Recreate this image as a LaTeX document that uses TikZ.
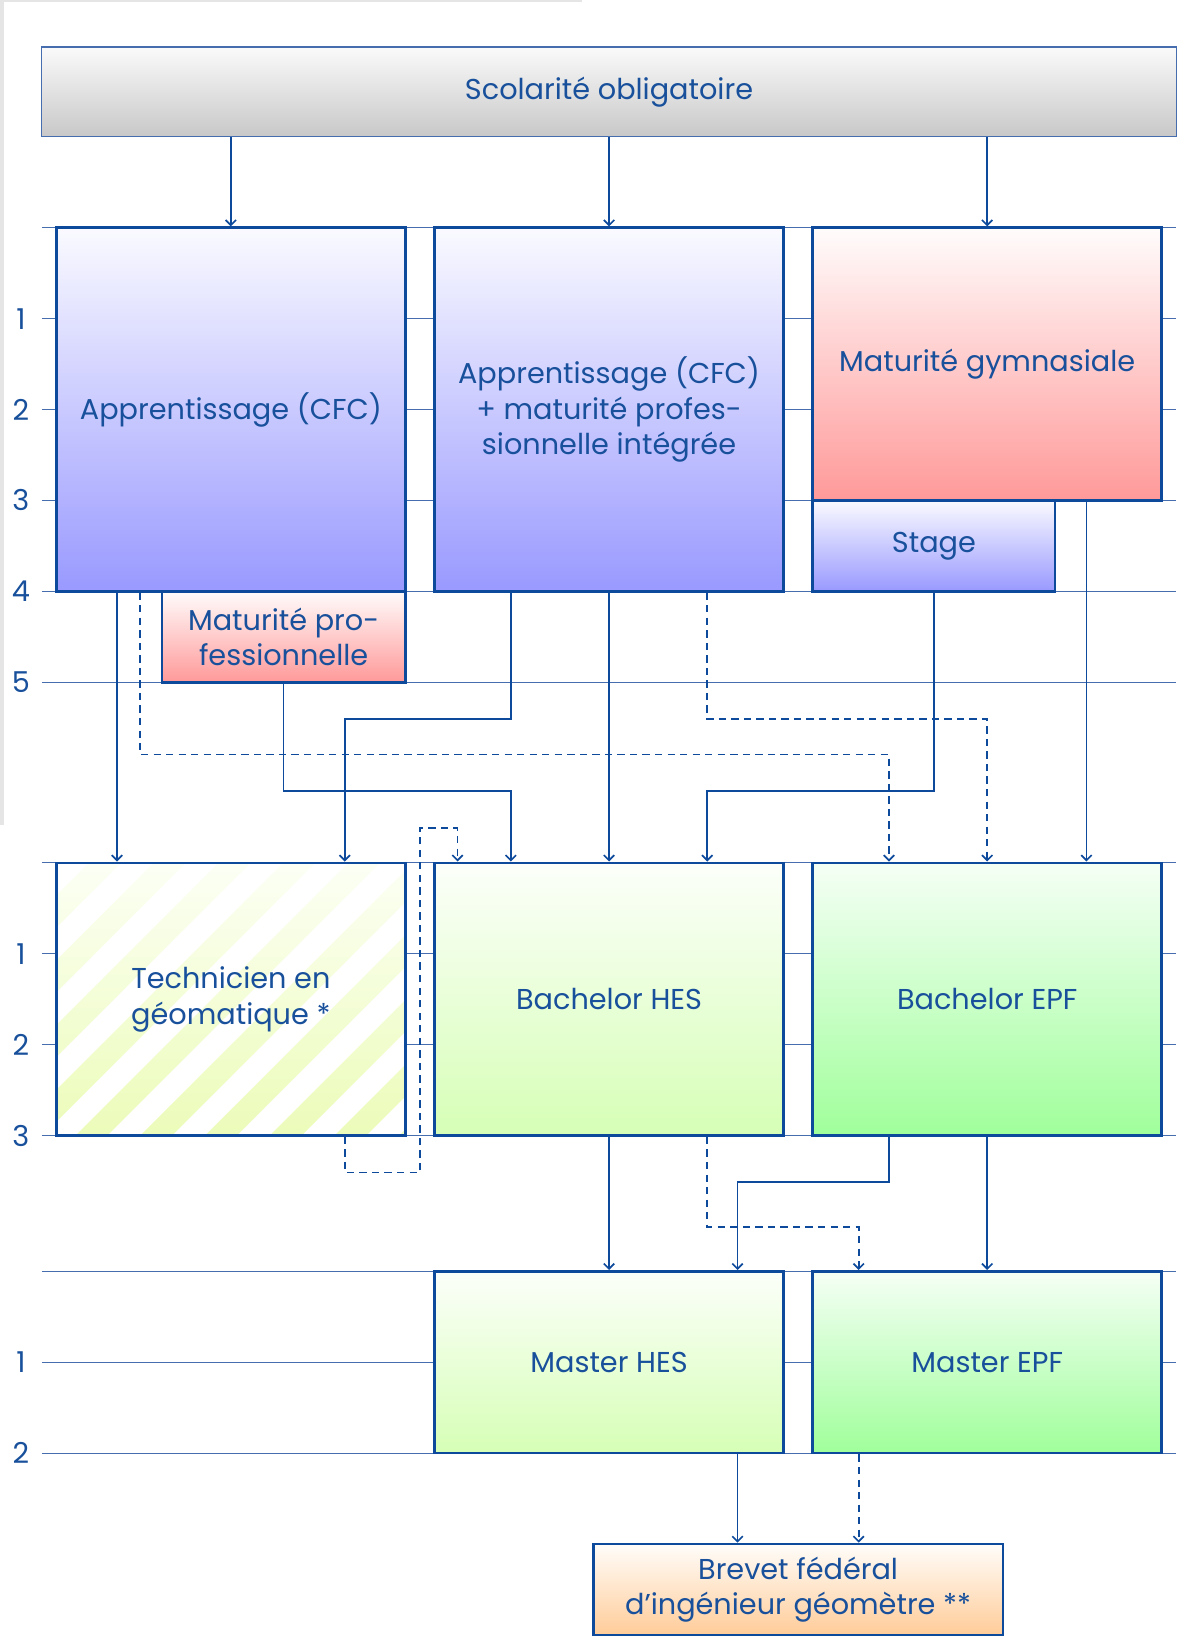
\documentclass[tikz,border=0pt]{standalone}
\usepackage{fontspec}
\setmainfont{Poppins}
\usetikzlibrary{arrows.meta,calc}
\definecolor{ink}{RGB}{24,80,155}
\definecolor{edge}{RGB}{14,74,156}
\definecolor{gridc}{RGB}{70,110,175}
\definecolor{bluetop}{RGB}{250,250,255}
\definecolor{bluebot}{RGB}{153,153,255}
\definecolor{redtop}{RGB}{255,252,252}
\definecolor{redbot}{RGB}{255,153,153}
\definecolor{ltgtop}{RGB}{252,255,250}
\definecolor{ltgbot}{RGB}{214,255,182}
\definecolor{grtop}{RGB}{245,255,245}
\definecolor{grbot}{RGB}{160,255,155}
\definecolor{ortop}{RGB}{255,253,250}
\definecolor{orbot}{RGB}{255,204,153}
\definecolor{gytop}{RGB}{250,250,250}
\definecolor{gybot}{RGB}{200,200,200}
\definecolor{striptop}{RGB}{252,255,245}
\definecolor{stripbot}{RGB}{236,252,185}
\begin{document}
\begin{tikzpicture}[x=1pt,y=-1pt,
  txt/.style={text=ink, font=\fontsize{27.5}{34}\selectfont},
  box/.style={txt, draw=edge, line width=2.6pt, inner sep=0pt, align=center, rectangle},
  bluebox/.style={box, top color=bluetop, bottom color=bluebot},
  redbox/.style={box, top color=redtop, bottom color=redbot},
  ltgbox/.style={box, top color=ltgtop, bottom color=ltgbot},
  grbox/.style={box, top color=grtop, bottom color=grbot},
  orbox/.style={box, top color=ortop, bottom color=orbot},
  lab/.style={txt, inner sep=0pt},
  gridline/.style={draw=gridc, line width=1pt},
  arr/.style={draw=edge, line width=1.6pt, -{Straight Barb[length=5pt,width=10pt]}},
  dsh/.style={arr, dash pattern=on 7pt off 5pt}]
\useasboundingbox (0,0) rectangle (1126,1568);
% frame artifact
\fill[black!10] (0,0) rectangle (557,2);
\fill[black!10] (0,0) rectangle (4,790);
% grid lines
\foreach \y in {218,305,392,479,566,653,826,913,1000,1087,1217,1304,1391}
  \draw[gridline] (40,\y) -- (1126,\y);
\foreach \y/\t in {305/1,392/2,479/3,566/4,653/5,913/1,1000/2,1087/3,1304/1,1391/2}
  \node[lab] at (20,\y) {\t};
% top box
\node[txt, draw=gridc, line width=1pt, top color=gytop, bottom color=gybot, inner sep=0pt,
  minimum width=1086pt, minimum height=86pt] (scol) at (583,88) {Scolarité obligatoire};
% first level
\node[bluebox, minimum width=334pt, minimum height=348pt] (app) at (221,392) {Apprentissage (CFC)};
\node[bluebox, minimum width=334pt, minimum height=348pt] (appm) at (583,392) {Apprentissage (CFC)\\+ maturité profes-\\sionnelle intégrée};
\node[redbox, minimum width=334pt, minimum height=261pt] (matg) at (945,348.5) {Maturité gymnasiale};
\node[bluebox, minimum width=232pt, minimum height=87pt] (stage) at (894,522.5) {Stage};
\node[redbox, minimum width=233pt, minimum height=87pt] (matp) at (271.5,609.5) {Maturité pro-\\fessionnelle};
% second level
\begin{scope}
  \clip (54,826) rectangle (388,1087);
  \shade[top color=striptop, bottom color=stripbot] (54,826) rectangle (388,1087);
  \foreach \k in {-6,...,7}
    \fill[white] ({1128+62*\k-800},800) -- ({1159+62*\k-800},800) -- ({1159+62*\k-1110},1110) -- ({1128+62*\k-1110},1110) -- cycle;
\end{scope}
\node[box, minimum width=334pt, minimum height=261pt] (tech) at (221,956.5) {Technicien en\\géomatique *};
\node[ltgbox, minimum width=334pt, minimum height=261pt] (bhes) at (583,956.5) {Bachelor HES};
\node[grbox, minimum width=334pt, minimum height=261pt] (bepf) at (945,956.5) {Bachelor EPF};
% third level
\node[ltgbox, minimum width=334pt, minimum height=174pt] (mhes) at (583,1304) {Master HES};
\node[grbox, minimum width=334pt, minimum height=174pt] (mepf) at (945,1304) {Master EPF};
\node[orbox, minimum width=392pt, minimum height=87pt] (brevet) at (764,1521.5) {Brevet fédéral\\d’ingénieur géomètre **};
% connectors from top
\draw[arr] (scol.south -| app.north) -- (app.north);
\draw[arr] (scol.south -| appm.north) -- (appm.north);
\draw[arr] (scol.south -| matg.north) -- (matg.north);
% level 1 -> level 2
\draw[arr] ([xshift=-109pt]app.south) -- ([xshift=-109pt]tech.north);
\draw[dsh] ([xshift=-87pt]app.south) -- ++(0,155) -| ([xshift=-94pt]bepf.north);
\draw[arr] (matp.south) -- ++(0,103) -| ([xshift=-94pt]bhes.north);
\draw[arr] ([xshift=-94pt]appm.south) -- ++(0,121) -| ([xshift=109pt]tech.north);
\draw[arr] (appm.south) -- (bhes.north);
\draw[dsh] ([xshift=94pt]appm.south) -- ++(0,121) -| (bepf.north);
\draw[arr] (stage.south) -- ++(0,190) -| ([xshift=94pt]bhes.north);
\draw[arr] ([xshift=95pt]matg.south) -- ([xshift=95pt]bepf.north);
\draw[dsh] ([xshift=109pt]tech.south) -- ++(0,34) -- ++(72,0) -- ++(0,-330) -| ([xshift=-145pt]bhes.north);
% level 2 -> level 3
\draw[arr] (bhes.south) -- (mhes.north);
\draw[dsh] ([xshift=94pt]bhes.south) -- ++(0,86) -| ([xshift=-123pt]mepf.north);
\draw[arr] ([xshift=-94pt]bepf.south) -- ++(0,43) -| ([xshift=123pt]mhes.north);
\draw[arr] (bepf.south) -- (mepf.north);
% level 3 -> brevet
\draw[arr] ([xshift=123pt]mhes.south) -- ([xshift=-58pt]brevet.north);
\draw[dsh] ([xshift=-123pt]mepf.south) -- ([xshift=58pt]brevet.north);
\end{tikzpicture}
\end{document}
